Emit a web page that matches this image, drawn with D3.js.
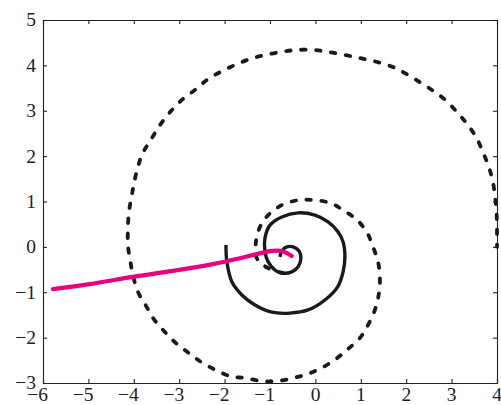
<!DOCTYPE html>
<html>
<head>
<meta charset="utf-8">
<script src="https://cdn.jsdelivr.net/npm/d3@7"></script>
<style>
  body { margin: 0; background: #fff; }
  text { font-family: "Liberation Serif", "DejaVu Serif", serif; font-size: 19.5px; fill: #222; }
</style>
</head>
<body>
<div id="chart"></div>
<script>
// tick values
var xTicks = [-6, -5, -4, -3, -2, -1, 0, 1, 2, 3, 4];
var yTicks = [-3, -2, -1, 0, 1, 2, 3, 4, 5];

// dashed spiral (inside -> out)
var dashedSpiral = [
  [-0.71, -0.58], [-1.04, -0.47], [-1.29, -0.25], [-1.31, 0.11], [-1.22, 0.44],
  [-1.04, 0.70], [-0.74, 0.92], [-0.38, 1.03], [-0.05, 1.03], [0.32, 0.97],
  [0.61, 0.81], [0.92, 0.59], [1.14, 0.31], [1.27, 0.0], [1.38, -0.33],
  [1.42, -0.66], [1.40, -1.02], [1.31, -1.39], [1.16, -1.72], [0.98, -2.01],
  [0.72, -2.25], [0.48, -2.45], [0.17, -2.65], [-0.16, -2.80], [-0.49, -2.89],
  [-0.85, -2.96], [-1.18, -2.96], [-1.55, -2.89], [-1.88, -2.85], [-2.48, -2.56],
  [-2.76, -2.36], [-3.05, -2.14], [-3.31, -1.88], [-3.56, -1.59], [-3.73, -1.30],
  [-3.91, -0.99], [-4.02, -0.62], [-4.08, -0.29], [-4.13, 0.04], [-4.13, 0.37],
  [-4.11, 0.75], [-4.05, 1.10], [-3.99, 1.43], [-3.91, 1.76], [-3.80, 2.07],
  [-3.60, 2.40], [-3.42, 2.69], [-3.20, 2.97], [-2.94, 3.24], [-2.65, 3.46],
  [-2.39, 3.68], [-2.10, 3.85], [-1.77, 4.01], [-1.44, 4.14], [-1.11, 4.23],
  [-0.74, 4.30], [-0.41, 4.34], [-0.05, 4.34], [0.26, 4.30], [0.65, 4.23],
  [0.98, 4.16], [1.34, 4.08], [1.69, 3.97], [1.97, 3.83], [2.30, 3.63],
  [2.59, 3.44], [2.86, 3.24], [3.12, 2.97], [3.34, 2.71], [3.54, 2.42],
  [3.69, 2.09], [3.82, 1.76], [3.91, 1.43], [3.96, 1.08], [3.99, 0.75],
  [4.0, 0.37], [4.0, 0.0]
];

// solid spiral (outer end -> inner end)
var solidSpiral = [
  [-1.97, 0.04], [-1.95, -0.33], [-1.84, -0.77], [-1.62, -1.06], [-1.33, -1.28],
  [-0.96, -1.44], [-0.56, -1.46], [-0.16, -1.39], [0.21, -1.17], [0.49, -0.88],
  [0.61, -0.55], [0.65, -0.22], [0.61, 0.11], [0.50, 0.33], [0.28, 0.55],
  [-0.01, 0.70], [-0.38, 0.75], [-0.74, 0.66], [-1.00, 0.48], [-1.11, 0.20],
  [-1.11, -0.11], [-1.04, -0.33], [-0.89, -0.51], [-0.71, -0.58], [-0.52, -0.55],
  [-0.38, -0.44], [-0.32, -0.25], [-0.36, -0.09], [-0.49, 0.0], [-0.63, 0.0],
  [-0.74, -0.09], [-0.78, -0.22]
];

// magenta path
var pinkPath = [
  [-5.78, -0.93], [-4.97, -0.82], [-4.02, -0.66], [-3.14, -0.53], [-2.26, -0.38],
  [-1.66, -0.25], [-1.29, -0.16], [-0.96, -0.09], [-0.74, -0.09], [-0.52, -0.20]
];

var svg = d3.select("#chart").append("svg")
  .attr("width", 501)
  .attr("height", 405);

var margin = {top: 20, right: 4, bottom: 22, left: 43},
    width = 501 - margin.left - margin.right,
    height = 405 - margin.top - margin.bottom;

var g = svg.append("g")
  .attr("transform", "translate(" + margin.left + "," + margin.top + ")");

var x = d3.scaleLinear().domain([-6, 4]).range([0, width]);
var y = d3.scaleLinear().domain([-3, 5]).range([height, 0]);

function lab(v) { return v < 0 ? "\u2212" + Math.abs(v) : String(v); }

// inward ticks on all four sides
g.append("g").attr("class", "axis")
  .attr("transform", "translate(0," + height + ")")
  .call(d3.axisBottom(x).tickValues(xTicks).tickSize(-4).tickFormat(""));
g.append("g").attr("class", "axis")
  .call(d3.axisTop(x).tickValues(xTicks).tickSize(-4).tickFormat(""));
g.append("g").attr("class", "axis")
  .call(d3.axisLeft(y).tickValues(yTicks).tickSize(-4).tickFormat(""));
g.append("g").attr("class", "axis")
  .attr("transform", "translate(" + width + ",0)")
  .call(d3.axisRight(y).tickValues(yTicks).tickSize(-4).tickFormat(""));

g.selectAll(".axis path").attr("stroke", "#222").attr("stroke-width", 1.1);
g.selectAll(".axis line").attr("stroke", "#222").attr("stroke-width", 1.1);

// labels: digits centred on the tick, minus hangs to the left
g.selectAll(".xlab").data(xTicks).enter().append("text")
  .attr("class", "xlab")
  .attr("x", function(d){ return x(d) + 5; })
  .attr("y", height + 18)
  .attr("text-anchor", "end")
  .text(lab);

g.selectAll(".ylab").data(yTicks).enter().append("text")
  .attr("class", "ylab")
  .attr("x", -7)
  .attr("y", function(d){ return y(d); })
  .attr("dy", "0.33em")
  .attr("text-anchor", "end")
  .text(lab);

var line = d3.line()
  .x(function(d){ return x(d[0]); })
  .y(function(d){ return y(d[1]); })
  .curve(d3.curveCatmullRom);

g.append("path")
  .datum(dashedSpiral)
  .attr("d", line)
  .attr("fill", "none")
  .attr("stroke", "#1a1a1a")
  .attr("stroke-width", 3.8)
  .attr("stroke-linecap", "round")
  .attr("stroke-dasharray", "4.5,10.5");

g.append("path")
  .datum(solidSpiral)
  .attr("d", line)
  .attr("fill", "none")
  .attr("stroke", "#1a1a1a")
  .attr("stroke-width", 3.4);

g.append("path")
  .datum(pinkPath)
  .attr("d", line)
  .attr("fill", "none")
  .attr("stroke", "#e8007f")
  .attr("stroke-width", 4.2)
  .attr("stroke-linecap", "round");
</script>
</body>
</html>
